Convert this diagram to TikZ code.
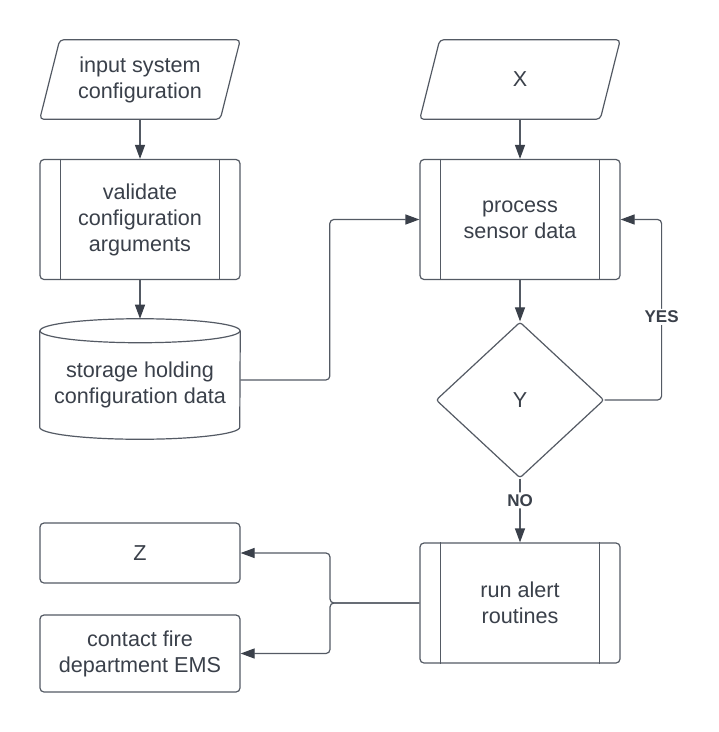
\documentclass[tikz,border=0pt]{standalone}
\usepackage{fontspec}
\setmainfont{Liberation Sans}
\usepackage{tikz}
\usetikzlibrary{arrows.meta,positioning,calc,shapes.geometric}
\definecolor{ink}{RGB}{58,64,74}
\definecolor{edge}{RGB}{84,90,100}

\begin{document}
\begin{tikzpicture}[x=.75pt,y=-.75pt,
  txt/.style={align=center,text=ink,font=\fontsize{16.2}{19.5}\selectfont},
  box/.style={txt,draw=edge,line width=.9pt,rounded corners=3pt,minimum width=150pt,inner sep=0pt},
  procbox/.style={box,minimum height=90pt},
  iobox/.style={txt,minimum width=135pt,minimum height=59.25pt,inner sep=0pt},
  decbox/.style={txt,draw=edge,line width=.9pt,rounded corners=2pt,diamond,minimum width=126pt,minimum height=117pt,inner sep=0pt},
  conn/.style={draw=edge,line width=.9pt,rounded corners=3pt,-{Triangle[length=10.5pt,width=7.5pt,color=ink]}},
  lbl/.style={fill=white,text=ink,font=\bfseries\fontsize{12.75}{15}\selectfont,inner sep=1.5pt}]
\fill[white] (0,0) rectangle (718,732);
\useasboundingbox (0,0) rectangle (718,732);
% left column
\node[iobox] (cfgin) at (140,79.5) {input system\\configuration};
\node[procbox] (valid) at (140,219.5) {validate\\configuration\\arguments};
\node[txt,minimum width=150pt,minimum height=81pt,inner sep=0pt] (store) at (140,385) {storage holding\\configuration data};
\draw[edge,line width=.9pt] (store.north west) -- ([yshift=9pt]store.south west) arc[start angle=180,end angle=360,x radius=75pt,y radius=9pt] -- (store.north east);
\draw[edge,line width=.9pt] (store.north) ellipse[x radius=75pt,y radius=9pt];
% right column
\node[iobox] (xin) at (520,79.5) {X};
\node[procbox] (proc) at (520,219.5) {process\\sensor data};
\node[decbox] (dec) at (520,400) {Y};
\node[procbox] (alert) at (520,603) {run alert\\routines};
% outputs
\node[box,minimum height=45pt] (zout) at (140,553) {Z};
\node[box,minimum height=57.75pt] (ems) at (140,653.5) {contact fire\\department EMS};
% parallelograms and process bars
\foreach \n in {cfgin,xin}
  \draw[edge,line width=.9pt,rounded corners=3pt] ([xshift=7.5pt]\n.north west) -- ([xshift=7.5pt]\n.north east)
    -- ([xshift=-7.5pt]\n.south east) -- ([xshift=-7.5pt]\n.south west) -- cycle;
\foreach \n in {valid,proc,alert}
  \draw[edge,line width=.9pt] ([xshift=15.75pt]\n.north west) -- ([xshift=15.75pt]\n.south west)
    ([xshift=-15.75pt]\n.north east) -- ([xshift=-15.75pt]\n.south east);
% connectors
\draw[conn] (cfgin) -- (valid);
\draw[conn] (valid) -- ([yshift=9pt]store.north);
\draw[conn] ([yshift=3.75pt]store.east) -| ($(store.east)!.5!(proc.west)$) |- (proc.west);
\draw[conn] (xin) -- (proc);
\draw[conn] (proc) -- (dec);
\draw[conn] (dec.east) -- ++(57,0) |- (proc.east) node[lbl,pos=.23] {YES};
\draw[conn] (dec) -- (alert) node[lbl,pos=.34] {NO};
\draw[conn] (alert.west) -| ($(alert.west)!.5!(zout.east)$) |- (zout.east);
\draw[conn] (alert.west) -| ($(alert.west)!.5!(ems.east)$) |- (ems.east);
\end{tikzpicture}
\end{document}
